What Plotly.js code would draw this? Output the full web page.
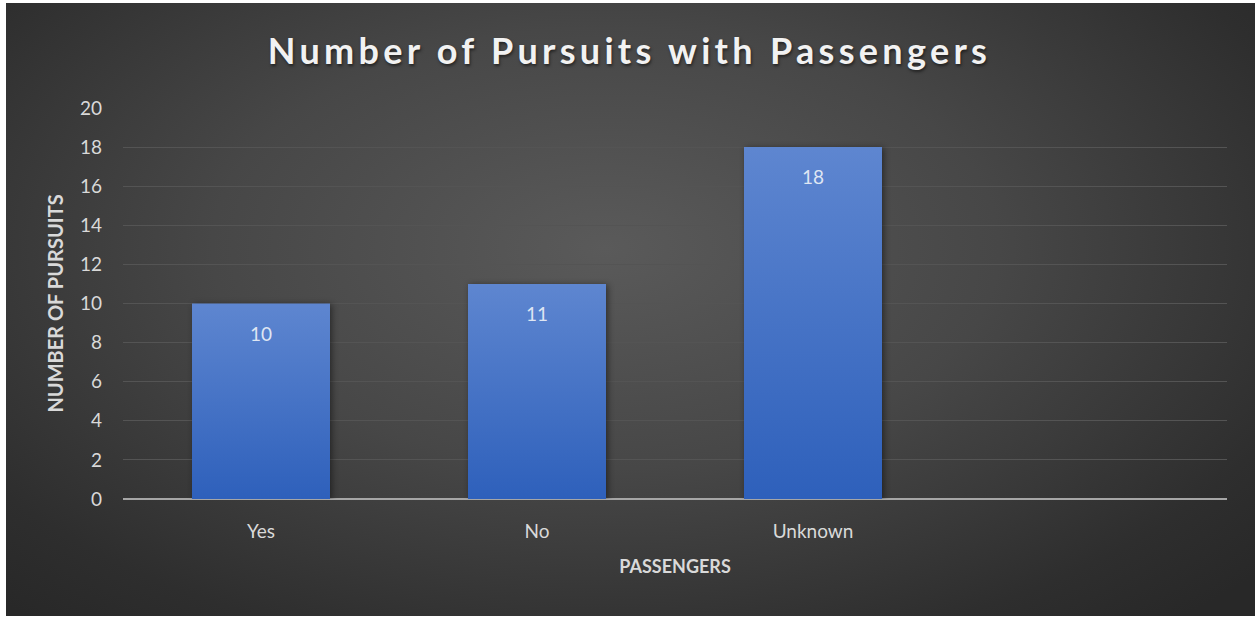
<!DOCTYPE html>
<html>
<head>
<meta charset="utf-8">
<script src="https://cdn.plot.ly/plotly-3.0.1.min.js"></script>
<style>
  html, body { margin: 0; padding: 0; background: #ffffff; }
  #bg {
    position: absolute; left: 6px; top: 3px; width: 1249px; height: 613px;
    background: radial-gradient(ellipse 70% 80% at 48% 40%, #5a5a5a 0%, #474747 45%, #2e2e2e 85%, #282828 100%);
  }
  #chart { position: absolute; left: 0; top: 0; width: 1259px; height: 623px; }
  .gtitle { letter-spacing: 4.3px; text-shadow: 1px 2px 3px rgba(0,0,0,0.5); }
</style>
</head>
<body>
<div id="bg"></div>
<div id="chart"></div>
<script>
const categories = ["Yes", "No", "Unknown"];
const values = [10, 11, 18];
const yTicks = [0, 2, 4, 6, 8, 10, 12, 14, 16, 18, 20];

const font = "Lato, 'Open Sans', sans-serif";

const trace = {
  type: "bar",
  x: categories,
  y: values,
  width: 0.5,
  marker: { color: "#4674c9", line: { width: 0 } },
  hoverinfo: "skip"
};

const annotations = categories.map((c, i) => ({
  x: c, y: values[i], xref: "x", yref: "y",
  text: String(values[i]),
  showarrow: false,
  yanchor: "top",
  yshift: -16,
  font: { family: font, size: 19, color: "#dfe6f3" }
}));

const layout = {
  width: 1259, height: 623,
  paper_bgcolor: "rgba(0,0,0,0)",
  plot_bgcolor: "rgba(0,0,0,0)",
  margin: { l: 123, r: 32, t: 108, b: 124 },
  showlegend: false,
  annotations: annotations,
  title: {
    text: "<b>Number of Pursuits with Passengers</b>",
    font: { family: font, size: 36, color: "#f2f2f2" },
    x: 0.5, xanchor: "center", y: 0.918, yanchor: "middle"
  },
  xaxis: {
    type: "category",
    categoryarray: categories,
    range: [-0.5, 3.5],
    showgrid: false,
    zeroline: false,
    showline: false,
    ticks: "",
    ticklabelstandoff: 19,
    tickfont: { family: font, size: 19, color: "#d9d9d9" },
    title: { text: "<b>PASSENGERS</b>", font: { family: font, size: 18, color: "#d9d9d9" }, standoff: 19 }
  },
  yaxis: {
    range: [0, 20],
    tickvals: yTicks,
    showgrid: true,
    gridcolor: "#545454",
    gridwidth: 1,
    zeroline: true,
    zerolinecolor: "#a6a6a6",
    zerolinewidth: 2,
    showline: false,
    ticks: "",
    ticklabelstandoff: 20,
    tickfont: { family: font, size: 19, color: "#d9d9d9" },
    title: { text: "<b>NUMBER OF PURSUITS</b>", font: { family: font, size: 20, color: "#d9d9d9" }, standoff: 10 }
  }
};

Plotly.newPlot("chart", [trace], layout, { displayModeBar: false, staticPlot: true }).then(gd => {
  const svg = gd.querySelector("svg.main-svg");
  const ns = "http://www.w3.org/2000/svg";
  let defs = svg.querySelector("defs");
  if (!defs) { defs = document.createElementNS(ns, "defs"); svg.insertBefore(defs, svg.firstChild); }
  const grad = document.createElementNS(ns, "linearGradient");
  grad.setAttribute("id", "barGrad");
  grad.setAttribute("x1", "0"); grad.setAttribute("y1", "0");
  grad.setAttribute("x2", "0"); grad.setAttribute("y2", "1");
  [["0", "#5e86d0"], ["1", "#2e60bb"]].forEach(([o, c]) => {
    const s = document.createElementNS(ns, "stop");
    s.setAttribute("offset", o); s.setAttribute("stop-color", c);
    grad.appendChild(s);
  });
  defs.appendChild(grad);
  gd.querySelectorAll(".bars .point path").forEach(p => {
    p.style.fill = "url(#barGrad)";
    p.style.filter = "drop-shadow(2px 1px 3px rgba(0,0,0,0.45))";
  });
});
</script>
</body>
</html>
